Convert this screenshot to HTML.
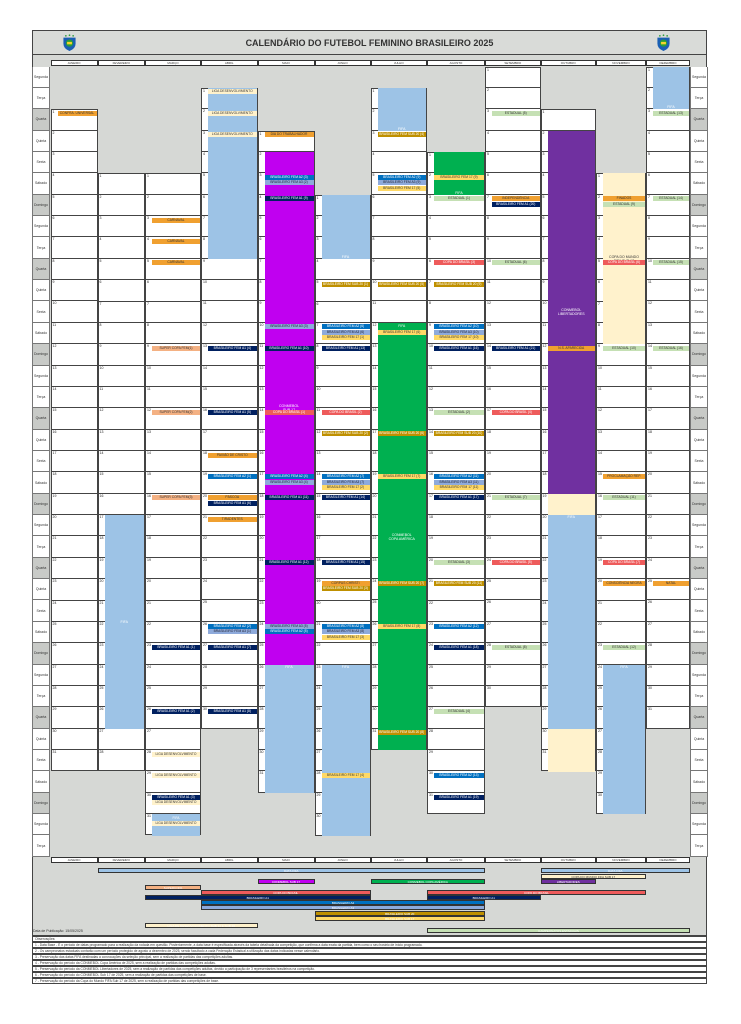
<!DOCTYPE html>
<html><head><meta charset="utf-8"><style>
*{box-sizing:border-box;margin:0;padding:0}
body{width:741px;height:1024px;background:#fff;position:relative;font-family:"Liberation Sans",sans-serif;overflow:hidden}
.frame{position:absolute;left:32px;top:30px;width:675px;height:906px;background:#d6d8d5;border:1px solid #444}
.title{position:absolute;left:32px;top:30px;width:675px;height:25px;border:1px solid #444;background:#d9dbd8;text-align:center;font-weight:bold;font-size:9px;line-height:25px;color:#333}
.logo{position:absolute;top:34px;width:15px;height:17px}
.mh{position:absolute;top:60px;height:6px;background:#fff;border:1px solid #333;font-size:3px;line-height:4px;text-align:center;color:#333}
.m{position:absolute;top:66.5px;padding-top:calc(var(--off)*21.37px)}
.m>b{display:block;height:21.37px;background:#fff;border:1px solid #444;border-top:0;font-weight:normal;font-size:3.5px;line-height:5px;padding-left:1px;color:#222}
.m>b:first-child{border-top:1px solid #444}
.blk{position:absolute;left:7px;right:1px;top:calc(var(--r)*21.37px);height:calc(var(--n)*21.37px);font-size:3.5px;color:#fff;text-align:center;display:flex;align-items:center;justify-content:center}
.e{position:absolute;left:7px;right:1px;height:5px;top:calc(var(--r)*21.37px + 1.5px + var(--o,0)*5.5px);font-size:3.3px;line-height:5px;text-align:center;white-space:nowrap;overflow:hidden;color:#fff}
.or{background:#f0a030;color:#333}.sa{background:#f4b183;color:#333}.nv{background:#002060}.a2{background:#0070c0}.a3{background:#8eaadb;color:#223}.rd{background:#ee5b5b}.gd{background:#bf9000}.yw{background:#ffd966;color:#333}.lg{background:#c5e0b4;color:#333}.bg{background:#fff2cc;color:#333}
.fifa{background:#9dc3e6}.mag{background:#c000f0}.pur{background:#7030a0}.grn{background:#00b050}.bei{background:#fff2cc}
.rl{position:absolute;top:66.5px;width:18px}
.rl div{height:21.37px;border:1px solid #777;border-top:0;background:#fff;font-size:3.5px;display:flex;align-items:center;justify-content:center;color:#333}
.rl div.g{background:#c8cac7}
.bl{position:absolute;height:5px;font-size:3px;line-height:5px;text-align:center;color:#fff;border:0.5px solid #333;white-space:nowrap;overflow:hidden}
.obs{position:absolute;left:32px;width:675px;height:6px;background:#fff;border:1px solid #444;font-size:3.3px;line-height:5px;padding-left:2px;color:#333;white-space:nowrap;overflow:hidden}
</style></head><body>
<div class="frame"></div>
<div class="title">CALENDÁRIO DO FUTEBOL FEMININO BRASILEIRO 2025</div>
<svg class="logo" style="left:62px" viewBox="0 0 12 14"><path d="M1 3 L11 3 L11 8 Q11 12 6 14 Q1 12 1 8Z" fill="#1a5fb4"/><circle cx="6" cy="7.5" r="3" fill="#2a9d3a"/><rect x="4" y="6.5" width="4" height="2" fill="#f6d32d"/><circle cx="3" cy="1.5" r=".7" fill="#2a9d3a"/><circle cx="6" cy="1" r=".7" fill="#2a9d3a"/><circle cx="9" cy="1.5" r=".7" fill="#2a9d3a"/></svg>
<svg class="logo" style="left:656px" viewBox="0 0 12 14"><path d="M1 3 L11 3 L11 8 Q11 12 6 14 Q1 12 1 8Z" fill="#1a5fb4"/><circle cx="6" cy="7.5" r="3" fill="#2a9d3a"/><rect x="4" y="6.5" width="4" height="2" fill="#f6d32d"/><circle cx="3" cy="1.5" r=".7" fill="#2a9d3a"/><circle cx="6" cy="1" r=".7" fill="#2a9d3a"/><circle cx="9" cy="1.5" r=".7" fill="#2a9d3a"/></svg>

<div class="mh" style="left:50.5px;width:47px">JANEIRO</div>
<div class="mh" style="left:97.5px;width:47.5px">FEVEREIRO</div>
<div class="mh" style="left:145px;width:56px">MARÇO</div>
<div class="mh" style="left:201px;width:56.5px">ABRIL</div>
<div class="mh" style="left:257.5px;width:57px">MAIO</div>
<div class="mh" style="left:314.5px;width:56px">JUNHO</div>
<div class="mh" style="left:370.5px;width:56.5px">JULHO</div>
<div class="mh" style="left:427px;width:58px">AGOSTO</div>
<div class="mh" style="left:485px;width:55.5px">SETEMBRO</div>
<div class="mh" style="left:540.5px;width:55.5px">OUTUBRO</div>
<div class="mh" style="left:596px;width:50px">NOVEMBRO</div>
<div class="mh" style="left:646px;width:44px">DEZEMBRO</div>

<div class="rl" style="left:32px"><div>Segunda</div><div>Terça</div><div class="g">Quarta</div><div>Quinta</div><div>Sexta</div><div>Sábado</div><div class="g">Domingo</div><div>Segunda</div><div>Terça</div><div class="g">Quarta</div><div>Quinta</div><div>Sexta</div><div>Sábado</div><div class="g">Domingo</div><div>Segunda</div><div>Terça</div><div class="g">Quarta</div><div>Quinta</div><div>Sexta</div><div>Sábado</div><div class="g">Domingo</div><div>Segunda</div><div>Terça</div><div class="g">Quarta</div><div>Quinta</div><div>Sexta</div><div>Sábado</div><div class="g">Domingo</div><div>Segunda</div><div>Terça</div><div class="g">Quarta</div><div>Quinta</div><div>Sexta</div><div>Sábado</div><div class="g">Domingo</div><div>Segunda</div><div>Terça</div></div>
<div class="rl" style="left:690px"><div>Segunda</div><div>Terça</div><div class="g">Quarta</div><div>Quinta</div><div>Sexta</div><div>Sábado</div><div class="g">Domingo</div><div>Segunda</div><div>Terça</div><div class="g">Quarta</div><div>Quinta</div><div>Sexta</div><div>Sábado</div><div class="g">Domingo</div><div>Segunda</div><div>Terça</div><div class="g">Quarta</div><div>Quinta</div><div>Sexta</div><div>Sábado</div><div class="g">Domingo</div><div>Segunda</div><div>Terça</div><div class="g">Quarta</div><div>Quinta</div><div>Sexta</div><div>Sábado</div><div class="g">Domingo</div><div>Segunda</div><div>Terça</div><div class="g">Quarta</div><div>Quinta</div><div>Sexta</div><div>Sábado</div><div class="g">Domingo</div><div>Segunda</div><div>Terça</div></div>

<!-- JAN -->
<div class="m" style="left:50.5px;width:47px;--off:2"><b>1</b><b>2</b><b>3</b><b>4</b><b>5</b><b>6</b><b>7</b><b>8</b><b>9</b><b>10</b><b>11</b><b>12</b><b>13</b><b>14</b><b>15</b><b>16</b><b>17</b><b>18</b><b>19</b><b>20</b><b>21</b><b>22</b><b>23</b><b>24</b><b>25</b><b>26</b><b>27</b><b>28</b><b>29</b><b>30</b><b>31</b>
<div class="e or" style="--r:2">CONFRA. UNIVERSAL</div>
</div>
<!-- FEB -->
<div class="m" style="left:97.5px;width:47.5px;--off:5"><b>1</b><b>2</b><b>3</b><b>4</b><b>5</b><b>6</b><b>7</b><b>8</b><b>9</b><b>10</b><b>11</b><b>12</b><b>13</b><b>14</b><b>15</b><b>16</b><b>17</b><b>18</b><b>19</b><b>20</b><b>21</b><b>22</b><b>23</b><b>24</b><b>25</b><b>26</b><b>27</b><b>28</b>
<div class="blk fifa" style="--r:21;--n:10">FIFA</div>
</div>
<!-- MAR -->
<div class="m" style="left:145px;width:56px;--off:5"><b>1</b><b>2</b><b>3</b><b>4</b><b>5</b><b>6</b><b>7</b><b>8</b><b>9</b><b>10</b><b>11</b><b>12</b><b>13</b><b>14</b><b>15</b><b>16</b><b>17</b><b>18</b><b>19</b><b>20</b><b>21</b><b>22</b><b>23</b><b>24</b><b>25</b><b>26</b><b>27</b><b>28</b><b>29</b><b>30</b><b>31</b>
<div class="blk fifa" style="--r:35;--n:1"></div>
<div class="e or" style="--r:7">CARNAVAL</div><div class="e or" style="--r:8">CARNAVAL</div><div class="e or" style="--r:9">CARNAVAL</div>
<div class="e sa" style="--r:13">SUPER COPA FEM(1)</div><div class="e sa" style="--r:16">SUPER COPA FEM(2)</div><div class="e sa" style="--r:20">SUPER COPA FEM(3)</div>
<div class="e nv" style="--r:27">BRASILEIRO FEM A1 (1)</div><div class="e nv" style="--r:30">BRASILEIRO FEM A1 (2)</div>
<div class="e bg" style="--r:32">LIGA DESENVOLVIMENTO</div><div class="e bg" style="--r:33">LIGA DESENVOLVIMENTO</div>
<div class="e nv" style="--r:34">BRASILEIRO FEM A1 (3)</div><div class="e bg" style="--r:34;--o:1">LIGA DESENVOLVIMENTO</div>
<div class="e fifa" style="--r:35">FIFA</div><div class="e bg" style="--r:35;--o:1">LIGA DESENVOLVIMENTO</div>
</div>
<!-- APR -->
<div class="m" style="left:201px;width:56.5px;--off:1"><b>1</b><b>2</b><b>3</b><b>4</b><b>5</b><b>6</b><b>7</b><b>8</b><b>9</b><b>10</b><b>11</b><b>12</b><b>13</b><b>14</b><b>15</b><b>16</b><b>17</b><b>18</b><b>19</b><b>20</b><b>21</b><b>22</b><b>23</b><b>24</b><b>25</b><b>26</b><b>27</b><b>28</b><b>29</b><b>30</b>
<div class="blk fifa" style="--r:1;--n:8"></div>
<div class="e bg" style="--r:1">LIGA DESENVOLVIMENTO</div><div class="e bg" style="--r:2">LIGA DESENVOLVIMENTO</div><div class="e bg" style="--r:3">LIGA DESENVOLVIMENTO</div>
<div class="e nv" style="--r:13">BRASILEIRO FEM A1 (4)</div><div class="e nv" style="--r:16">BRASILEIRO FEM A1 (5)</div>
<div class="e or" style="--r:18">PAIXÃO DE CRISTO</div><div class="e a2" style="--r:19">BRASILEIRO FEM A2 (1)</div>
<div class="e or" style="--r:20">PÁSCOA</div><div class="e nv" style="--r:20;--o:1">BRASILEIRO FEM A1 (6)</div>
<div class="e or" style="--r:21">TIRADENTES</div>
<div class="e a2" style="--r:26">BRASILEIRO FEM A2 (2)</div><div class="e a3" style="--r:26;--o:1">BRASILEIRO FEM A3 (1)</div>
<div class="e nv" style="--r:27">BRASILEIRO FEM A1 (7)</div><div class="e nv" style="--r:30">BRASILEIRO FEM A1 (8)</div>
</div>
<!-- MAY -->
<div class="m" style="left:257.5px;width:57px;--off:3"><b>1</b><b>2</b><b>3</b><b>4</b><b>5</b><b>6</b><b>7</b><b>8</b><b>9</b><b>10</b><b>11</b><b>12</b><b>13</b><b>14</b><b>15</b><b>16</b><b>17</b><b>18</b><b>19</b><b>20</b><b>21</b><b>22</b><b>23</b><b>24</b><b>25</b><b>26</b><b>27</b><b>28</b><b>29</b><b>30</b><b>31</b>
<div class="blk mag" style="--r:4;--n:24">CONMEBOL<br>SUB 17</div>
<div class="blk fifa" style="--r:28;--n:6;align-items:flex-start">FIFA</div>
<div class="e or" style="--r:3">DIA DO TRABALHADOR</div>
<div class="e a2" style="--r:5">BRASILEIRO FEM A2 (3)</div><div class="e a3" style="--r:5;--o:1">BRASILEIRO FEM A3 (2)</div>
<div class="e nv" style="--r:6">BRASILEIRO FEM A1 (9)</div>
<div class="e a3" style="--r:12">BRASILEIRO FEM A3 (3)</div><div class="e nv" style="--r:13">BRASILEIRO FEM A1 (10)</div>
<div class="e rd" style="--r:16">COPA DO BRASIL (1)</div>
<div class="e a2" style="--r:19">BRASILEIRO FEM A2 (4)</div><div class="e a3" style="--r:19;--o:1">BRASILEIRO FEM A3 (4)</div>
<div class="e nv" style="--r:20">BRASILEIRO FEM A1 (11)</div><div class="e nv" style="--r:23">BRASILEIRO FEM A1 (12)</div>
<div class="e a3" style="--r:26">BRASILEIRO FEM A3 (5)</div><div class="e a2" style="--r:26;--o:1">BRASILEIRO FEM A2 (5)</div>
</div>
<!-- JUN -->
<div class="m" style="left:314.5px;width:56px;--off:6"><b>1</b><b>2</b><b>3</b><b>4</b><b>5</b><b>6</b><b>7</b><b>8</b><b>9</b><b>10</b><b>11</b><b>12</b><b>13</b><b>14</b><b>15</b><b>16</b><b>17</b><b>18</b><b>19</b><b>20</b><b>21</b><b>22</b><b>23</b><b>24</b><b>25</b><b>26</b><b>27</b><b>28</b><b>29</b><b>30</b>
<div class="blk fifa" style="--r:6;--n:3;align-items:flex-end">FIFA</div>
<div class="blk fifa" style="--r:28;--n:8;align-items:flex-start">FIFA</div>
<div class="e gd" style="--r:10">BRASILEIRO FEM SUB 20 (1)</div>
<div class="e a2" style="--r:12">BRASILEIRO FEM A2 (6)</div><div class="e a3" style="--r:12;--o:1">BRASILEIRO FEM A3 (6)</div><div class="e yw" style="--r:12;--o:2">BRASILEIRO FEM 17 (1)</div>
<div class="e nv" style="--r:13">BRASILEIRO FEM A1 (13)</div><div class="e rd" style="--r:16">COPA DO BRASIL (2)</div>
<div class="e gd" style="--r:17">BRASILEIRO FEM SUB 20 (2)</div>
<div class="e a2" style="--r:19">BRASILEIRO FEM A2 (7)</div><div class="e a3" style="--r:19;--o:1">BRASILEIRO FEM A3 (7)</div><div class="e yw" style="--r:19;--o:2">BRASILEIRO FEM 17 (2)</div>
<div class="e nv" style="--r:20">BRASILEIRO FEM A1 (14)</div><div class="e nv" style="--r:23">BRASILEIRO FEM A1 (15)</div>
<div class="e or" style="--r:24">CORPUS CHRISTI</div><div class="e gd" style="--r:24;--o:1">BRASILEIRO FEM SUB 20 (3)</div>
<div class="e a2" style="--r:26">BRASILEIRO FEM A2 (8)</div><div class="e a3" style="--r:26;--o:1">BRASILEIRO FEM A3 (8)</div><div class="e yw" style="--r:26;--o:2">BRASILEIRO FEM 17 (3)</div>
<div class="e yw" style="--r:33">BRASILEIRO FEM 17 (4)</div>
</div>
<!-- JUL -->
<div class="m" style="left:370.5px;width:56.5px;--off:1"><b>1</b><b>2</b><b>3</b><b>4</b><b>5</b><b>6</b><b>7</b><b>8</b><b>9</b><b>10</b><b>11</b><b>12</b><b>13</b><b>14</b><b>15</b><b>16</b><b>17</b><b>18</b><b>19</b><b>20</b><b>21</b><b>22</b><b>23</b><b>24</b><b>25</b><b>26</b><b>27</b><b>28</b><b>29</b><b>30</b><b>31</b>
<div class="blk fifa" style="--r:1;--n:2;align-items:flex-end">FIFA</div>
<div class="blk grn" style="--r:12;--n:20">CONMEBOL<br>COPA AMÉRICA</div>
<div class="e gd" style="--r:3">BRASILEIRO FEM SUB 20 (4)</div>
<div class="e a2" style="--r:5">BRASILEIRO FEM A2 (9)</div><div class="e a3" style="--r:5;--o:1">BRASILEIRO FEM A3 (9)</div><div class="e yw" style="--r:5;--o:2">BRASILEIRO FEM 17 (5)</div>
<div class="e gd" style="--r:10">BRASILEIRO FEM SUB 20 (5)</div>
<div class="e grn" style="--r:12">FIFA</div><div class="e yw" style="--r:12;--o:1">BRASILEIRO FEM 17 (6)</div>
<div class="e gd" style="--r:17">BRASILEIRO FEM SUB 20 (6)</div><div class="e yw" style="--r:19">BRASILEIRO FEM 17 (7)</div>
<div class="e gd" style="--r:24">BRASILEIRO FEM SUB 20 (7)</div><div class="e yw" style="--r:26">BRASILEIRO FEM 17 (8)</div>
<div class="e gd" style="--r:31">BRASILEIRO FEM SUB 20 (8)</div>
</div>
<!-- AUG -->
<div class="m" style="left:427px;width:58px;--off:4"><b>1</b><b>2</b><b>3</b><b>4</b><b>5</b><b>6</b><b>7</b><b>8</b><b>9</b><b>10</b><b>11</b><b>12</b><b>13</b><b>14</b><b>15</b><b>16</b><b>17</b><b>18</b><b>19</b><b>20</b><b>21</b><b>22</b><b>23</b><b>24</b><b>25</b><b>26</b><b>27</b><b>28</b><b>29</b><b>30</b><b>31</b>
<div class="blk grn" style="--r:4;--n:2;align-items:flex-end">FIFA</div>
<div class="e yw" style="--r:5">BRASILEIRO FEM 17 (9)</div><div class="e lg" style="--r:6">ESTADUAL (1)</div>
<div class="e rd" style="--r:9">COPA DO BRASIL (3)</div><div class="e gd" style="--r:10">BRASILEIRO FEM SUB 20 (9)</div>
<div class="e a2" style="--r:12">BRASILEIRO FEM A2 (10)</div><div class="e a3" style="--r:12;--o:1">BRASILEIRO FEM A3 (10)</div><div class="e yw" style="--r:12;--o:2">BRASILEIRO FEM 17 (10)</div>
<div class="e nv" style="--r:13">BRASILEIRO FEM A1 (16)</div><div class="e lg" style="--r:16">ESTADUAL (2)</div>
<div class="e gd" style="--r:17">BRASILEIRO FEM SUB 20 (10)</div>
<div class="e a2" style="--r:19">BRASILEIRO FEM A2 (11)</div><div class="e a3" style="--r:19;--o:1">BRASILEIRO FEM A3 (11)</div><div class="e yw" style="--r:19;--o:2">BRASILEIRO FEM 17 (11)</div>
<div class="e nv" style="--r:20">BRASILEIRO FEM A1 (17)</div><div class="e lg" style="--r:23">ESTADUAL (3)</div>
<div class="e gd" style="--r:24">BRASILEIRO FEM SUB 20 (11)</div><div class="e a2" style="--r:26">BRASILEIRO FEM A2 (12)</div>
<div class="e nv" style="--r:27">BRASILEIRO FEM A1 (18)</div><div class="e lg" style="--r:30">ESTADUAL (4)</div>
<div class="e a2" style="--r:33">BRASILEIRO FEM A2 (13)</div><div class="e nv" style="--r:34">BRASILEIRO FEM A1 (19)</div>
</div>
<!-- SEP -->
<div class="m" style="left:485px;width:55.5px;--off:0"><b>1</b><b>2</b><b>3</b><b>4</b><b>5</b><b>6</b><b>7</b><b>8</b><b>9</b><b>10</b><b>11</b><b>12</b><b>13</b><b>14</b><b>15</b><b>16</b><b>17</b><b>18</b><b>19</b><b>20</b><b>21</b><b>22</b><b>23</b><b>24</b><b>25</b><b>26</b><b>27</b><b>28</b><b>29</b><b>30</b>
<div class="e lg" style="--r:2">ESTADUAL (5)</div>
<div class="e or" style="--r:6">INDEPENDÊNCIA</div><div class="e nv" style="--r:6;--o:1">BRASILEIRO FEM A1 (20)</div>
<div class="e lg" style="--r:9">ESTADUAL (6)</div><div class="e nv" style="--r:13">BRASILEIRO FEM A1 (21)</div>
<div class="e rd" style="--r:16">COPA DO BRASIL (4)</div><div class="e lg" style="--r:20">ESTADUAL (7)</div>
<div class="e rd" style="--r:23">COPA DO BRASIL (5)</div><div class="e lg" style="--r:27">ESTADUAL (8)</div>
</div>
<!-- OCT -->
<div class="m" style="left:540.5px;width:55.5px;--off:2"><b>1</b><b>2</b><b>3</b><b>4</b><b>5</b><b>6</b><b>7</b><b>8</b><b>9</b><b>10</b><b>11</b><b>12</b><b>13</b><b>14</b><b>15</b><b>16</b><b>17</b><b>18</b><b>19</b><b>20</b><b>21</b><b>22</b><b>23</b><b>24</b><b>25</b><b>26</b><b>27</b><b>28</b><b>29</b><b>30</b><b>31</b>
<div class="blk pur" style="--r:3;--n:17">CONMEBOL<br>LIBERTADORES</div>
<div class="blk bei" style="--r:20;--n:1"></div>
<div class="blk fifa" style="--r:21;--n:10;align-items:flex-start">FIFA</div>
<div class="blk bei" style="--r:31;--n:2"></div>
<div class="e or" style="--r:13">N.S. APARECIDA</div>
</div>
<!-- NOV -->
<div class="m" style="left:596px;width:50px;--off:5"><b>1</b><b>2</b><b>3</b><b>4</b><b>5</b><b>6</b><b>7</b><b>8</b><b>9</b><b>10</b><b>11</b><b>12</b><b>13</b><b>14</b><b>15</b><b>16</b><b>17</b><b>18</b><b>19</b><b>20</b><b>21</b><b>22</b><b>23</b><b>24</b><b>25</b><b>26</b><b>27</b><b>28</b><b>29</b><b>30</b>
<div class="blk bei" style="--r:5;--n:8;color:#333">COPA DO MUNDO<br>FIFA SUB 17</div>
<div class="blk fifa" style="--r:28;--n:7;align-items:flex-start">FIFA</div>
<div class="e or" style="--r:6">FINADOS</div><div class="e lg" style="--r:6;--o:1">ESTADUAL (9)</div>
<div class="e rd" style="--r:9">COPA DO BRASIL (6)</div><div class="e lg" style="--r:13">ESTADUAL (10)</div>
<div class="e or" style="--r:19">PROCLAMAÇÃO REP.</div><div class="e lg" style="--r:20">ESTADUAL (11)</div>
<div class="e rd" style="--r:23">COPA DO BRASIL (7)</div><div class="e or" style="--r:24">CONSCIÊNCIA NEGRA</div>
<div class="e lg" style="--r:27">ESTADUAL (12)</div>
</div>
<!-- DEC -->
<div class="m" style="left:646px;width:44px;--off:0"><b>1</b><b>2</b><b>3</b><b>4</b><b>5</b><b>6</b><b>7</b><b>8</b><b>9</b><b>10</b><b>11</b><b>12</b><b>13</b><b>14</b><b>15</b><b>16</b><b>17</b><b>18</b><b>19</b><b>20</b><b>21</b><b>22</b><b>23</b><b>24</b><b>25</b><b>26</b><b>27</b><b>28</b><b>29</b><b>30</b><b>31</b>
<div class="blk fifa" style="--r:0;--n:2;align-items:flex-end">FIFA</div>
<div class="e lg" style="--r:2">ESTADUAL (13)</div><div class="e lg" style="--r:6">ESTADUAL (14)</div>
<div class="e lg" style="--r:9">ESTADUAL (15)</div><div class="e lg" style="--r:13">ESTADUAL (16)</div>
<div class="e or" style="--r:24">NATAL</div>
</div>

<div class="mh" style="top:857px;left:50.5px;width:47px">JANEIRO</div>
<div class="mh" style="top:857px;left:97.5px;width:47.5px">FEVEREIRO</div>
<div class="mh" style="top:857px;left:145px;width:56px">MARÇO</div>
<div class="mh" style="top:857px;left:201px;width:56.5px">ABRIL</div>
<div class="mh" style="top:857px;left:257.5px;width:57px">MAIO</div>
<div class="mh" style="top:857px;left:314.5px;width:56px">JUNHO</div>
<div class="mh" style="top:857px;left:370.5px;width:56.5px">JULHO</div>
<div class="mh" style="top:857px;left:427px;width:58px">AGOSTO</div>
<div class="mh" style="top:857px;left:485px;width:55.5px">SETEMBRO</div>
<div class="mh" style="top:857px;left:540.5px;width:55.5px">OUTUBRO</div>
<div class="mh" style="top:857px;left:596px;width:50px">NOVEMBRO</div>
<div class="mh" style="top:857px;left:646px;width:44px">DEZEMBRO</div>

<div class="bl fifa" style="top:868px;left:97.5px;width:387.5px">DATA FIFA</div>
<div class="bl fifa" style="top:868px;left:540.5px;width:149.5px">DATA FIFA</div>
<div class="bl bei" style="top:873.5px;left:540.5px;width:105.5px;color:#333">COPA DO MUNDO FIFA SUB 17</div>
<div class="bl mag" style="top:879px;left:257.5px;width:57px">CONMEBOL SUB 17</div>
<div class="bl grn" style="top:879px;left:370.5px;width:114.5px">CONMEBOL COPA AMÉRICA</div>
<div class="bl pur" style="top:879px;left:540.5px;width:55.5px">LIBERTADORES</div>
<div class="bl sa" style="top:884.5px;left:145px;width:56px">SUPERCOPA</div>
<div class="bl rd" style="top:890px;left:201px;width:169.5px">COPA DO BRASIL</div>
<div class="bl rd" style="top:890px;left:427px;width:219px">COPA DO BRASIL</div>
<div class="bl nv" style="top:895px;left:145px;width:225.5px">BRASILEIRO A1</div>
<div class="bl nv" style="top:895px;left:427px;width:113.5px">BRASILEIRO A1</div>
<div class="bl a2" style="top:900px;left:201px;width:284px">BRASILEIRO A2</div>
<div class="bl a3" style="top:905px;left:201px;width:284px">BRASILEIRO A3</div>
<div class="bl gd" style="top:910.5px;left:314.5px;width:170.5px">BRASILEIRO SUB 20</div>
<div class="bl yw" style="top:915.5px;left:314.5px;width:170.5px">BRASILEIRO SUB 17</div>
<div class="bl bg" style="top:922.5px;left:145px;width:112.5px">LIGA DE DESENVOLVIMENTO SUB 14 E SUB 16</div>
<div class="bl lg" style="top:928px;left:427px;width:263px">CAMPEONATOS ESTADUAIS</div>
<div style="position:absolute;left:33px;top:929px;font-size:3.5px;color:#333">Data de Publicação: 15/05/2025</div>

<div class="obs" style="top:936px">Observações:</div>
<div class="obs" style="top:942px">1 - Data Base - É o período de datas programado para a realização da rodada em questão. Posteriormente, a data base é especificada através da tabela detalhada da competição, que confirma a data exata da partida, bem como o seu horário de início programado.</div>
<div class="obs" style="top:948px">2 - Os campeonatos estaduais contarão com um período protegido de agosto a dezembro de 2025, sendo facultado a cada Federação Estadual a utilização das datas indicadas nesse calendário.</div>
<div class="obs" style="top:954px">3 - Preservação das datas FIFA destinadas a convocações da seleção principal, sem a realização de partidas das competições adultas.</div>
<div class="obs" style="top:960px">4 - Preservação do período da CONMEBOL Copa América de 2025, sem a realização de partidas das competições adultas.</div>
<div class="obs" style="top:966px">5 - Preservação do período da CONMEBOL Libertadores de 2025, sem a realização de partidas das competições adultas, devido a participação de 3 representantes brasileiros na competição.</div>
<div class="obs" style="top:972px">6 - Preservação do período do CONMEBOL Sub 17 de 2025, sem a realização de partidas das competições de base.</div>
<div class="obs" style="top:978px">7 - Preservação do período da Copa do Mundo FIFA Sub 17 de 2025, sem a realização de partidas das competições de base.</div>
</body></html>
